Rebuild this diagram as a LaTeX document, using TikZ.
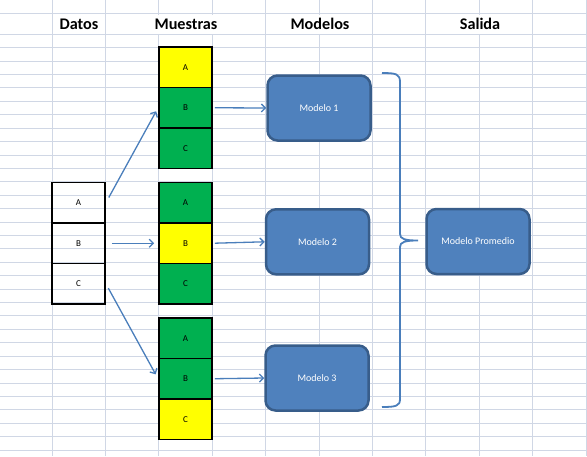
\documentclass[tikz,border=0pt]{standalone}
\usepackage{fontspec}
\setmainfont{Carlito}
\usepackage{xcolor}
\usepackage{tikz}
\usetikzlibrary{arrows.meta,positioning}
\definecolor{BagGrid}{HTML}{D0D7E5}
\definecolor{BagYellow}{HTML}{FFFF00}
\definecolor{BagGreen}{HTML}{00B050}
\definecolor{BagBlue}{HTML}{4F81BD}
\definecolor{BagEdge}{HTML}{385D8A}
\definecolor{BagLine}{HTML}{4A7EBB}
\tikzset{
  gridline/.style={draw=BagGrid,line width=0.9pt},
  cellbox/.style={draw=black,line width=1.8pt,minimum width=53pt,minimum height=40.5pt,inner sep=0pt,font=\fontsize{9}{10}\selectfont},
  modelbox/.style={draw=BagEdge,fill=BagBlue,line width=2.5pt,rounded corners=10pt,minimum width=103pt,minimum height=65pt,inner sep=2pt,text=white,font=\fontsize{10}{12}\selectfont},
  headtext/.style={font=\bfseries\fontsize{16.2}{18}\selectfont,fill=white,inner xsep=1pt,inner ysep=0pt,minimum height=19pt},
  flowarrow/.style={-{Straight Barb[length=4pt,width=8pt]},line width=1.3pt,draw=BagLine},
  bracepath/.style={line width=1.8pt,draw=BagLine}
}
\begin{document}
\begin{tikzpicture}[x=1pt,y=-1pt]
\useasboundingbox (0,0) rectangle (587,456);
% sheet grid
\foreach \k in {0,...,10}{\draw[gridline] ({52+53.4*\k},0)--({52+53.4*\k},456);}
\draw[gridline] (0,13.3)--(587,13.3);
\foreach \k in {0,...,31}{\draw[gridline] (0,{34.3+13.41*\k})--(587,{34.3+13.41*\k});}
% headers
\node[headtext] (hdatos) at (79,24) {Datos};
\node[headtext] (hmuestras) at (186,24) {Muestras};
\node[headtext] (hmodelos) at (320,24) {Modelos};
\node[headtext] (hsalida) at (480,24) {Salida};
% datos
\foreach \n/\y in {A/202.75,B/243.25,C/283.75}{\node[cellbox] (d\n) at (78.5,\y) {\n};}
% muestras
\foreach \g/\top/\ca/\cb/\cc in {1/47/BagYellow/BagGreen/BagGreen,2/182.5/BagGreen/BagYellow/BagGreen,3/318/BagGreen/BagGreen/BagYellow}{
  \node[cellbox,fill=\ca] (s\g-a) at (185.5,\top+20.25) {A};
  \node[cellbox,fill=\cb] (s\g-b) at (185.5,\top+60.75) {B};
  \node[cellbox,fill=\cc] (s\g-c) at (185.5,\top+101.25) {C};
}
% modelos
\node[modelbox] (m1) at (319,108) {Modelo 1};
\node[modelbox] (m2) at (317.5,241.8) {Modelo 2};
\node[modelbox] (m3) at (317,378) {Modelo 3};
\node[modelbox] (prom) at (478,241.5) {Modelo Promedio};
% flechas
\draw[flowarrow,shorten <=6pt,shorten >=4pt] (dA.east)--(s1-b.west);
\draw[flowarrow,shorten <=6pt,shorten >=4pt] (dB.east)--(s2-b.west);
\draw[flowarrow,shorten <=5pt,shorten >=5pt] (dC.east)--(s3-b.west);
\foreach \g in {1,2,3}{\draw[flowarrow,shorten <=2pt] (s\g-b.east)--(m\g.west);}
% llave
\coordinate (tip) at (418,240.5);
\draw[bracepath] (382,73) .. controls (396,73) and (400,74) .. (400,82)--(400,234)
  .. controls (400,239) and (405,240.5) .. (tip)
  .. controls (405,240.5) and (400,242) .. (400,247)--(400,399)
  .. controls (400,406) and (396,407) .. (382,407);
\end{tikzpicture}
\end{document}
